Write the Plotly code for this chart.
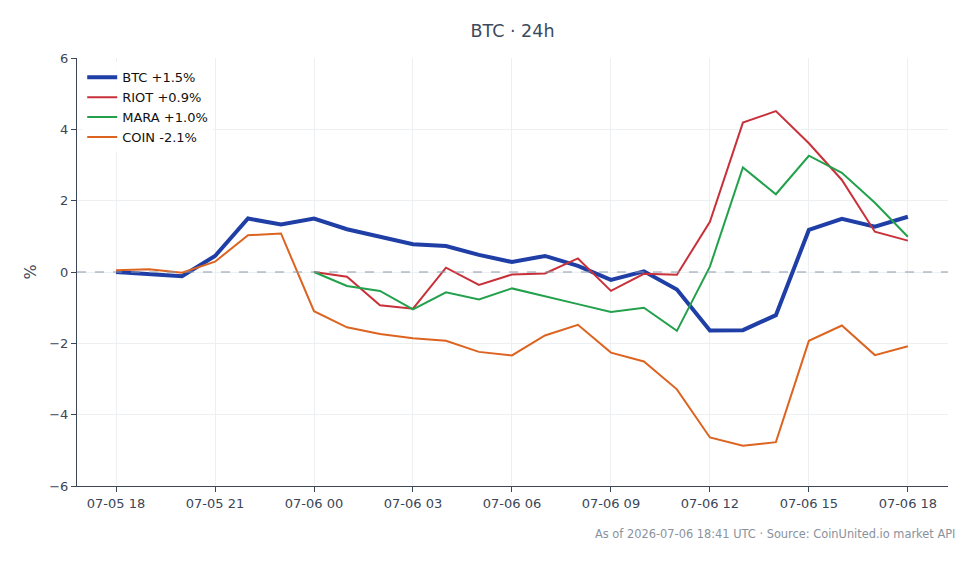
import plotly.graph_objects as go
import pandas as pd

times = pd.date_range("2026-07-05 18:00", "2026-07-06 18:00", freq="h")

btc = [0.0, -0.05, -0.12, 0.45, 1.5, 1.33, 1.5, 1.2, 1.0, 0.78, 0.73, 0.48, 0.28,
       0.45, 0.17, -0.22, 0.02, -0.49, -1.64, -1.63, -1.21, 1.18, 1.49, 1.27, 1.55]
riot = [0.0, -0.13, -0.93, -1.03, 0.12, -0.36, -0.07, -0.04, 0.38, -0.53, -0.05,
        -0.08, 1.41, 4.19, 4.51, 3.61, 2.58, 1.13, 0.88]
mara = [0.0, -0.39, -0.53, -1.05, -0.57, -0.77, -0.46, -0.67, -0.9, -1.12, -1.0,
        -1.65, 0.15, 2.93, 2.18, 3.26, 2.78, 1.94, 0.99]
coin = [0.05, 0.08, -0.02, 0.29, 1.03, 1.08, -1.1, -1.55, -1.74, -1.86, -1.93, -2.24,
        -2.34, -1.78, -1.48, -2.26, -2.51, -3.29, -4.64, -4.87, -4.77, -1.93, -1.5,
        -2.33, -2.08]

names = ["BTC +1.5%", "RIOT +0.9%", "MARA +1.0%", "COIN -2.1%"]
colors = ["#1f3fa6", "#c8313a", "#22a04b", "#dc6420"]
widths = [4, 2, 2, 2]

tick_vals = pd.date_range("2026-07-05 18:00", "2026-07-06 18:00", freq="3h")
tick_text = [t.strftime("%m-%d %H") for t in tick_vals]

fig = go.Figure()
series = [(btc, times), (riot, times[6:]), (mara, times[6:]), (coin, times)]
for (vals, xs), n, c, w in zip(series, names, colors, widths):
    fig.add_trace(go.Scatter(x=xs, y=vals, mode="lines", name=n,
                             line=dict(color=c, width=w)))

fig.add_hline(y=0, line=dict(color="#8a9aae", width=1.2, dash="dash"))

axis_col = "#3b4656"
fig.update_layout(
    width=980, height=564,
    margin=dict(l=77, r=32, t=58, b=78),
    paper_bgcolor="white", plot_bgcolor="white",
    font=dict(family="DejaVu Sans", size=13, color=axis_col),
    title=dict(text="BTC · 24h", x=0.5, xref="paper", y=0.945, yanchor="middle",
               font=dict(size=17.5, color="#3b4a5c")),
    showlegend=True,
    legend=dict(x=0.006, y=0.99, xanchor="left", yanchor="top",
                bgcolor="rgba(255,255,255,0.85)", font=dict(size=13, color="#111"),
                tracegroupgap=0, itemwidth=30),
    xaxis=dict(range=["2026-07-05 16:49", "2026-07-06 19:13"], tickvals=tick_vals,
               ticktext=tick_text, showgrid=True, gridcolor="#edf0f3",
               showline=True, linecolor=axis_col, linewidth=1.2,
               ticks="outside", ticklen=5, tickcolor=axis_col, zeroline=False),
    yaxis=dict(range=[-6, 6], dtick=2, showgrid=True, gridcolor="#edf0f3",
               showline=True, linecolor=axis_col, linewidth=1.2,
               ticks="outside", ticklen=5, tickcolor=axis_col, zeroline=False,
               title=dict(text="%", standoff=8)),
    annotations=[dict(text="As of 2026-07-06 18:41 UTC · Source: CoinUnited.io market API",
                      xref="paper", yref="paper", x=1.01, y=-0.112,
                      xanchor="right", yanchor="middle", showarrow=False,
                      font=dict(size=11.4, color="#8a929c"))],
)

fig.write_html("out.html")
